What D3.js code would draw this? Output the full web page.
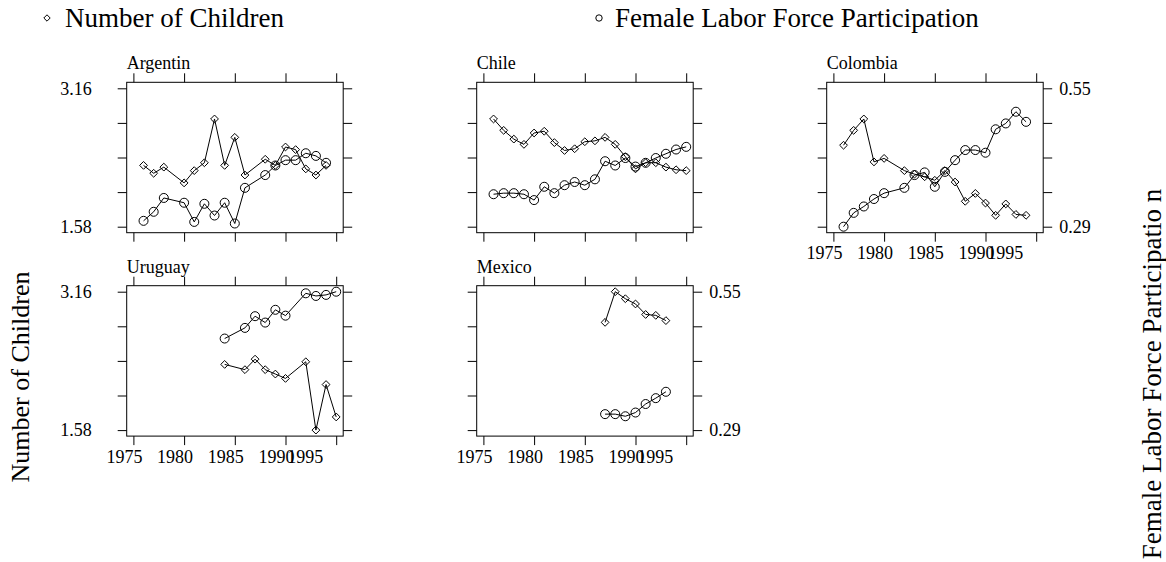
<!DOCTYPE html>
<html>
<head>
<meta charset="utf-8">
<script src="https://cdn.jsdelivr.net/npm/d3@7"></script>
<style>
  html, body { margin: 0; padding: 0; background: #fff; }
  svg { display: block; font-family: "Liberation Serif", "Times New Roman", serif; }
</style>
</head>
<body>
<svg id="chart" width="1166" height="562"></svg>
<script>
// Fertility (number of children) and female labor force participation by country
const countries = ["Argentin", "Chile", "Colombia", "Uruguay", "Mexico"];

const argYears    = [1976, 1977, 1978, 1980, 1981, 1982, 1983, 1984, 1985, 1986, 1988, 1989, 1990, 1991, 1992, 1993, 1994];
const argChildren = [2.28, 2.19, 2.26, 2.08, 2.22, 2.31, 2.81, 2.28, 2.60, 2.17, 2.35, 2.28, 2.49, 2.46, 2.24, 2.17, 2.28];
const argLabor    = [0.301, 0.318, 0.344, 0.335, 0.299, 0.333, 0.311, 0.335, 0.296, 0.363, 0.387, 0.405, 0.415, 0.415, 0.428, 0.423, 0.410];

const chiYears    = [1976, 1977, 1978, 1979, 1980, 1981, 1982, 1983, 1984, 1985, 1986, 1987, 1988, 1989, 1990, 1991, 1992, 1993, 1994, 1995];
const chiChildren = [2.81, 2.68, 2.58, 2.52, 2.65, 2.67, 2.54, 2.45, 2.47, 2.55, 2.56, 2.60, 2.52, 2.38, 2.24, 2.31, 2.31, 2.26, 2.23, 2.22];
const chiLabor    = [0.351, 0.353, 0.353, 0.351, 0.340, 0.365, 0.353, 0.368, 0.374, 0.368, 0.379, 0.413, 0.405, 0.419, 0.403, 0.410, 0.419, 0.427, 0.435, 0.440];

const colYears    = [1976, 1977, 1978, 1979, 1980, 1982, 1983, 1984, 1985, 1986, 1987, 1988, 1989, 1990, 1991, 1992, 1993, 1994];
const colChildren = [2.51, 2.68, 2.81, 2.32, 2.36, 2.22, 2.18, 2.15, 2.11, 2.22, 2.09, 1.87, 1.96, 1.85, 1.71, 1.84, 1.72, 1.71];
const colLabor    = [0.290, 0.316, 0.328, 0.342, 0.353, 0.363, 0.387, 0.392, 0.365, 0.393, 0.415, 0.434, 0.434, 0.429, 0.473, 0.484, 0.506, 0.487];

const uruYears    = [1984, 1986, 1987, 1988, 1989, 1990, 1992, 1993, 1994, 1995];
const uruChildren = [2.33, 2.27, 2.39, 2.27, 2.22, 2.17, 2.36, 1.58, 2.10, 1.73];
const uruLabor    = [0.462, 0.482, 0.504, 0.492, 0.516, 0.505, 0.547, 0.542, 0.544, 0.550];

const mexYears    = [1987, 1988, 1989, 1990, 1991, 1992, 1993];
const mexChildren = [2.81, 3.16, 3.08, 3.02, 2.90, 2.89, 2.83];
const mexLabor    = [0.320, 0.320, 0.316, 0.323, 0.339, 0.350, 0.362];

const xTickYears   = [1975, 1980, 1985, 1990, 1995];
const childLimits  = [1.58, 3.16];
const laborLimits  = [0.29, 0.55];
const childLabels  = ["1.58", "3.16"];
const laborLabels  = ["0.29", "0.55"];
const legendLabels = ["Number of Children", "Female Labor Force Participation"];

const panelData = [
  { name: countries[0], years: argYears, children: argChildren, labor: argLabor },
  { name: countries[1], years: chiYears, children: chiChildren, labor: chiLabor },
  { name: countries[2], years: colYears, children: colChildren, labor: colLabor },
  { name: countries[3], years: uruYears, children: uruChildren, labor: uruLabor },
  { name: countries[4], years: mexYears, children: mexChildren, labor: mexLabor }
];

// ---- layout ----
const svg = d3.select("#chart");
const FONT = 18;
const TITLE_FONT = 27;
const panelW = 216.5, panelH = 150.4;
const colStep = 350, rowStep = 203.4;
const origin = { x: 126.7, y: 82.3 };
const pad = 6;          // gap between frame and outer ticks
const tickLen = 9;
const nCols = 3;

// label offsets below the x axis; the last two labels crowd together
const xLabelNudge = [-9, -9, -9, -9, -31];

function drawDiamond(g, x, y, half) {
  g.append("path")
    .attr("d", `M${x},${y - half}L${x + half},${y}L${x},${y + half}L${x - half},${y}Z`)
    .attr("fill", "none").attr("stroke", "#000").attr("stroke-width", 1);
}

const lastInRow = { 0: 2, 1: 4 };

panelData.forEach((p, i) => {
  const col = i % nCols, row = Math.floor(i / nCols);
  const left = origin.x + col * colStep;
  const top = origin.y + row * rowStep;
  const g = svg.append("g").attr("transform", `translate(${left},${top})`);

  const x = d3.scaleLinear().domain([1975, 1995]).range([6.7, panelW - 7]);
  const yC = d3.scaleLinear().domain(childLimits).range([panelH - pad, pad]);
  const yL = d3.scaleLinear().domain(laborLimits).range([panelH - pad, pad]);

  // outer tick marks on all four sides
  const yTicks = d3.range(5).map(k => childLimits[0] + k * (childLimits[1] - childLimits[0]) / 4);
  const axL = d3.axisLeft(yC).tickValues(yTicks).tickSize(tickLen).tickFormat("");
  const axR = d3.axisRight(yC).tickValues(yTicks).tickSize(tickLen).tickFormat("");
  const axT = d3.axisTop(x).tickValues(xTickYears).tickSize(tickLen).tickFormat("");
  const axB = d3.axisBottom(x).tickValues(xTickYears).tickSize(tickLen).tickFormat("");
  [[axL, 0, 0], [axR, panelW, 0], [axT, 0, 0], [axB, 0, panelH]].forEach(([ax, tx, ty]) => {
    const a = g.append("g").attr("transform", `translate(${tx},${ty})`).call(ax);
    a.select(".domain").remove();
    a.selectAll("line").attr("stroke", "#000").attr("stroke-width", 1);
  });

  // frame
  g.append("rect").attr("x", 0).attr("y", 0).attr("width", panelW).attr("height", panelH)
    .attr("fill", "none").attr("stroke", "#000").attr("stroke-width", 1);

  // strip title
  g.append("text").attr("x", 0).attr("y", -13).attr("font-size", FONT).text(p.name);

  // left value labels on first column
  if (col === 0) {
    childLimits.forEach((v, k) => {
      g.append("text").attr("x", -35).attr("y", yC(v)).attr("dy", "0.35em")
        .attr("text-anchor", "end").attr("font-size", FONT).text(childLabels[k]);
    });
  }
  // right value labels on last panel of each row
  if (lastInRow[row] === i) {
    laborLimits.forEach((v, k) => {
      g.append("text").attr("x", panelW + 16).attr("y", yL(v)).attr("dy", "0.35em")
        .attr("text-anchor", "start").attr("font-size", FONT).text(laborLabels[k]);
    });
  }
  // year labels under panels with nothing below them
  if (row === 1 || i === 2) {
    xTickYears.forEach((yr, k) => {
      g.append("text").attr("x", x(yr) + xLabelNudge[k]).attr("y", panelH + 26.5)
        .attr("text-anchor", "middle").attr("font-size", FONT).text(String(yr));
    });
  }

  // series: number of children (diamonds)
  const ptsC = p.years.map((yr, k) => [x(yr), yC(p.children[k])]);
  g.append("path").attr("d", d3.line()(ptsC)).attr("fill", "none").attr("stroke", "#000").attr("stroke-width", 1);
  ptsC.forEach(([px, py]) => drawDiamond(g, px, py, 3.9));

  // series: female labor force participation (circles)
  const ptsL = p.years.map((yr, k) => [x(yr), yL(p.labor[k])]);
  g.append("path").attr("d", d3.line()(ptsL)).attr("fill", "none").attr("stroke", "#000").attr("stroke-width", 1);
  g.selectAll("circle.lab").data(ptsL).enter().append("circle")
    .attr("cx", d => d[0]).attr("cy", d => d[1]).attr("r", 4.5)
    .attr("fill", "none").attr("stroke", "#000").attr("stroke-width", 1);
});

// ---- legend ----
const lg = svg.append("g");
drawDiamond(lg, 47, 18, 3.2);
lg.append("text").attr("x", 65).attr("y", 18).attr("dy", "0.35em").attr("font-size", TITLE_FONT).text(legendLabels[0]);
lg.append("circle").attr("cx", 599).attr("cy", 18).attr("r", 3.2).attr("fill", "none").attr("stroke", "#000");
lg.append("text").attr("x", 615).attr("y", 18).attr("dy", "0.35em").attr("font-size", TITLE_FONT).text(legendLabels[1]);

// ---- axis titles ----
svg.append("text").attr("transform", "translate(20,377) rotate(-90)")
  .attr("text-anchor", "middle").attr("dy", "0.35em").attr("font-size", 26).text(legendLabels[0]);
svg.append("text").attr("transform", "translate(1152,374) rotate(-90)")
  .attr("text-anchor", "middle").attr("dy", "0.35em").attr("font-size", TITLE_FONT).text("Female Labor Force Participatio n");
</script>
</body>
</html>
